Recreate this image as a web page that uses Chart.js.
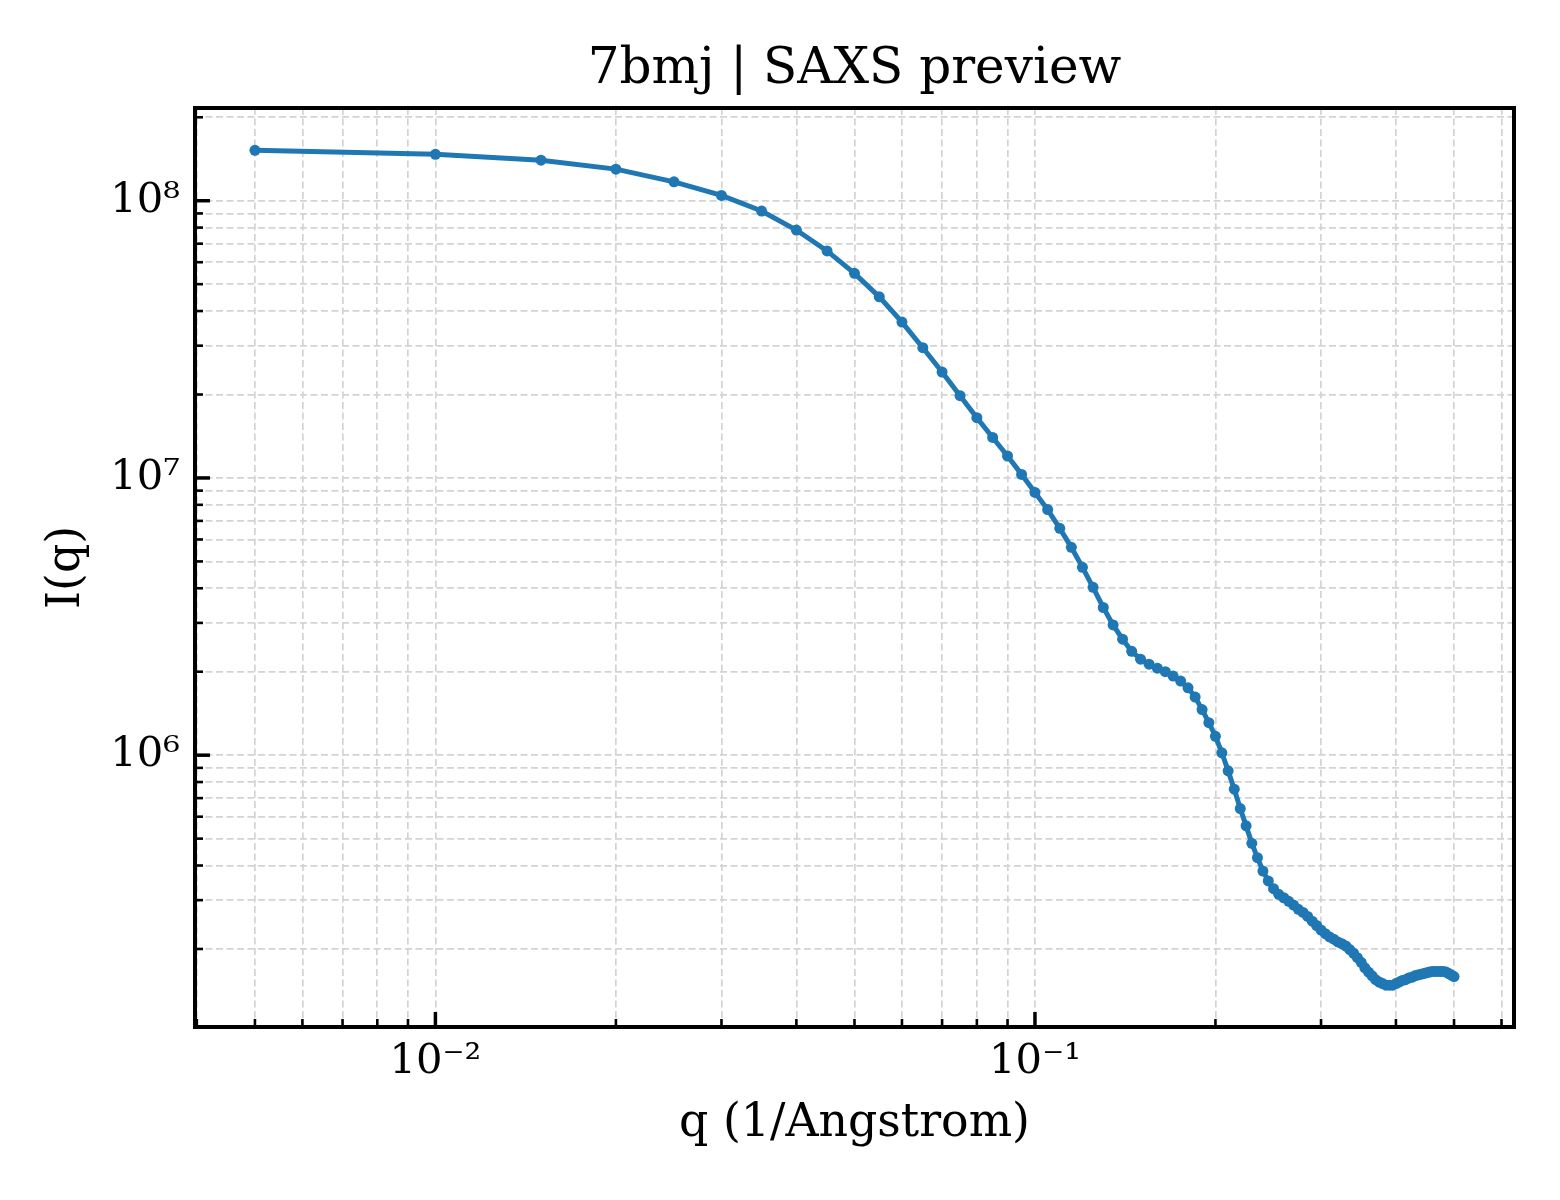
<!DOCTYPE html>
<html>
<head>
<meta charset="utf-8">
<title>7bmj | SAXS preview</title>
<script src="https://cdn.jsdelivr.net/npm/chart.js@4/dist/chart.umd.min.js"></script>
<style>
  html, body { margin: 0; padding: 0; background: #ffffff; }
  #wrap { width: 1560px; height: 1200px; }
</style>
</head>
<body>
<div id="wrap"><canvas id="c" width="1560" height="1200"></canvas></div>
<script>
// ---- data ----
const qValues = [
  0.005, 0.010, 0.015, 0.020, 0.025, 0.030, 0.035, 0.040, 0.045, 0.050,
  0.055, 0.060, 0.065, 0.070, 0.075, 0.080, 0.085, 0.090, 0.095, 0.100,
  0.105, 0.110, 0.115, 0.120, 0.125, 0.130, 0.135, 0.140, 0.145, 0.150,
  0.155, 0.160, 0.165, 0.170, 0.175, 0.180, 0.185, 0.190, 0.195, 0.200,
  0.205, 0.210, 0.215, 0.220, 0.225, 0.230, 0.235, 0.240, 0.245, 0.250,
  0.255, 0.260, 0.265, 0.270, 0.275, 0.280, 0.285, 0.290, 0.295, 0.300,
  0.305, 0.310, 0.315, 0.320, 0.325, 0.330, 0.335, 0.340, 0.345, 0.350,
  0.355, 0.360, 0.365, 0.370, 0.375, 0.380, 0.385, 0.390, 0.395, 0.400,
  0.405, 0.410, 0.415, 0.420, 0.425, 0.430, 0.435, 0.440, 0.445, 0.450,
  0.455, 0.460, 0.465, 0.470, 0.475, 0.480, 0.485, 0.490, 0.495, 0.500
];
const intensity = [
  1.52e8, 1.47e8, 1.40e8, 1.30e8, 1.17e8, 1.045e8, 9.18e7, 7.84e7, 6.59e7, 5.47e7,
  4.50e7, 3.65e7, 2.95e7, 2.41e7, 1.98e7, 1.65e7, 1.40e7, 1.20e7, 1.03e7, 8.87e6,
  7.69e6, 6.58e6, 5.62e6, 4.76e6, 4.03e6, 3.41e6, 2.95e6, 2.62e6, 2.37e6, 2.22e6,
  2.13e6, 2.06e6, 2.00e6, 1.93e6, 1.85e6, 1.75e6, 1.62e6, 1.46e6, 1.31e6, 1.17e6,
  1.02e6, 8.78e5, 7.54e5, 6.42e5, 5.56e5, 4.81e5, 4.27e5, 3.82e5, 3.52e5, 3.30e5,
  3.15e5, 3.06e5, 2.97e5, 2.88e5, 2.78e5, 2.71e5, 2.62e5, 2.52e5, 2.43e5, 2.34e5,
  2.27e5, 2.21e5, 2.17e5, 2.12e5, 2.09e5, 2.05e5, 1.99e5, 1.93e5, 1.86e5, 1.79e5,
  1.71e5, 1.65e5, 1.60e5, 1.55e5, 1.52e5, 1.50e5, 1.48e5, 1.48e5, 1.48e5, 1.50e5,
  1.52e5, 1.54e5, 1.55e5, 1.57e5, 1.58e5, 1.60e5, 1.61e5, 1.62e5, 1.63e5, 1.64e5,
  1.65e5, 1.66e5, 1.66e5, 1.66e5, 1.66e5, 1.66e5, 1.65e5, 1.63e5, 1.61e5, 1.59e5
];
const xMajorTicks = [0.01, 0.1];
const xTickLabels = ['10\u207B\u00B2', '10\u207B\u00B9'];
const yMajorTicks = [1e6, 1e7, 1e8];
const yTickLabels = ['10\u2076', '10\u2077', '10\u2078'];
const xRange = [0.003972, 0.6295];
const yRange = [1.046e5, 2.16e8];
const chartTitle = '7bmj | SAXS preview';
const xAxisTitle = 'q (1/Angstrom)';
const yAxisTitle = 'I(q)';

// ---- styling ----
const SERIF = "'DejaVu Serif', 'Liberation Serif', serif";
const LINE_COLOR = '#1f77b4';
const GRID_COLOR = '#d3d3d3';

function logTicks(scale) {
  const out = [];
  const lo = Math.floor(Math.log10(scale.min));
  const hi = Math.ceil(Math.log10(scale.max));
  for (let e = lo; e <= hi; e++) {
    for (let m = 1; m <= 9; m++) {
      const v = parseFloat((m * Math.pow(10, e)).toPrecision(6));
      if (v >= scale.min && v <= scale.max) out.push({ value: v });
    }
  }
  scale.ticks = out;
}
function isMajor(v, majors) {
  return majors.some(m => Math.abs(v / m - 1) < 1e-6);
}
function labelFor(v, majors, labels) {
  for (let i = 0; i < majors.length; i++) {
    if (Math.abs(v / majors[i] - 1) < 1e-6) return labels[i];
  }
  return '';
}

const frameAndTicks = {
  id: 'frameAndTicks',
  afterDraw(chart) {
    const { ctx, chartArea: a } = chart;
    const xs = chart.scales.x, ys = chart.scales.y;
    ctx.save();
    ctx.strokeStyle = '#000000';
    // inward ticks
    xs.ticks.forEach(t => {
      const px = xs.getPixelForValue(t.value);
      const major = isMajor(t.value, xMajorTicks);
      ctx.lineWidth = major ? 3.5 : 2.6;
      ctx.beginPath();
      ctx.moveTo(px, a.bottom);
      ctx.lineTo(px, a.bottom - (major ? 15 : 8));
      ctx.stroke();
    });
    ys.ticks.forEach(t => {
      const py = ys.getPixelForValue(t.value);
      const major = isMajor(t.value, yMajorTicks);
      ctx.lineWidth = major ? 3.5 : 2.6;
      ctx.beginPath();
      ctx.moveTo(a.left, py);
      ctx.lineTo(a.left + (major ? 15 : 8), py);
      ctx.stroke();
    });
    // frame
    ctx.lineWidth = 4;
    ctx.strokeRect(a.left, a.top, a.right - a.left, a.bottom - a.top);
    ctx.restore();
  }
};

new Chart(document.getElementById('c'), {
  type: 'line',
  data: {
    datasets: [{
      label: 'I(q)',
      data: qValues.map((q, i) => ({ x: q, y: intensity[i] })),
      borderColor: LINE_COLOR,
      backgroundColor: LINE_COLOR,
      borderWidth: 5,
      pointRadius: 5.5,
      pointBorderWidth: 0,
      pointBackgroundColor: LINE_COLOR,
      fill: false,
      tension: 0
    }]
  },
  options: {
    responsive: false,
    devicePixelRatio: 1,
    animation: false,
    layout: { padding: { left: 0, right: 46, top: 0, bottom: 0 } },
    plugins: {
      legend: { display: false },
      tooltip: { enabled: false },
      title: {
        display: true,
        fullSize: false,
        text: chartTitle,
        color: '#000000',
        font: { family: SERIF, size: 50, weight: 'normal', lineHeight: 1.2 },
        padding: { top: 40, bottom: 8 }
      }
    },
    scales: {
      x: {
        type: 'logarithmic',
        min: xRange[0],
        max: xRange[1],
        afterBuildTicks: logTicks,
        afterFit(scale) { scale.height = 173; },
        border: { display: false, dash: [7, 3.5] },
        grid: { color: GRID_COLOR, lineWidth: 1.7, drawTicks: false },
        ticks: {
          autoSkip: false,
          maxRotation: 0,
          minRotation: 0,
          padding: 10,
          color: '#000000',
          font: { family: SERIF, size: 41.7 },
          callback: (v) => labelFor(v, xMajorTicks, xTickLabels)
        },
        title: {
          display: true,
          text: xAxisTitle,
          color: '#000000',
          font: { family: SERIF, size: 45.8 },
          padding: { top: 0, bottom: 48 }
        }
      },
      y: {
        type: 'logarithmic',
        min: yRange[0],
        max: yRange[1],
        afterBuildTicks: logTicks,
        afterFit(scale) { scale.width = 195; },
        border: { display: false, dash: [7, 3.5] },
        grid: { color: GRID_COLOR, lineWidth: 1.7, drawTicks: false },
        ticks: {
          autoSkip: false,
          padding: 15,
          color: '#000000',
          font: { family: SERIF, size: 41.7 },
          callback: (v) => labelFor(v, yMajorTicks, yTickLabels)
        },
        title: {
          display: true,
          text: yAxisTitle,
          color: '#000000',
          font: { family: SERIF, size: 45.8 },
          padding: { top: 40, bottom: 0 }
        }
      }
    }
  },
  plugins: [frameAndTicks]
});
</script>
</body>
</html>
